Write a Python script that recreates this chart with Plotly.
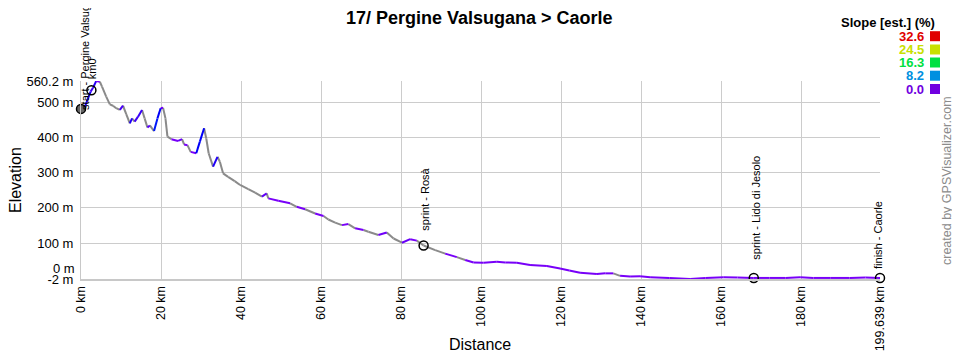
import colorsys
import plotly.graph_objects as go

# ---------------- data ----------------
dist_km = [0, 0.6, 1.6, 2.4, 3.0, 3.8, 4.7, 5.25, 6.3, 7.2, 8.0, 8.8, 9.7, 10.5, 11.3,
           12.2, 12.75, 13.4, 14.25, 15.25, 15.9, 16.6, 17.2, 18.25, 19.1, 19.9, 20.5,
           21.1, 21.6, 22.6, 24.25, 25.25, 25.75, 26.6, 27.4, 28.8, 29.7, 30.75, 31.3,
           31.9, 33.0, 34.1, 34.7, 35.5, 36.75, 38.4, 39.75, 41.8, 43.5, 45.2, 46.4,
           46.8, 49.3, 52.25, 53.9, 56.0, 58.5, 60.6, 61.8, 63.5, 65.2, 66.8, 68.5,
           70.6, 71.8, 74.3, 76.4, 78.1, 80.2, 82.25, 83.9, 85.6, 88.5, 91.0, 93.9,
           96.0, 98.1, 100.6, 103.9, 106.0, 108.9, 112.2, 116.4, 119.7, 122.0, 124.7,
           128.9, 131.0, 133.0, 134.7, 137.2, 139.7, 142.2, 147.0, 152.2, 156.0, 160.6,
           164.0, 168.1, 172.0, 176.0, 179.7, 183.0, 187.2, 192.0, 196.0, 199.639]
elev_m = [474, 476, 506, 530, 541, 560, 558, 544, 516, 494, 490, 483, 478, 490, 466,
          440, 454, 445, 459, 478, 454, 428, 434, 418, 454, 483, 484,
          454, 402, 395, 390, 395, 380, 378, 359, 355, 388, 426, 397,
          355, 317, 345, 331, 298, 288, 276, 265, 253, 243, 232, 241,
          227, 220, 213, 203, 196, 184, 177, 167, 158, 151, 154, 142,
          137, 132, 123, 130, 113, 101, 111, 107, 93, 80, 70, 60,
          52, 45, 44, 47, 45, 44, 38, 35, 28, 22, 16,
          12, 14, 14, 7, 5, 6, 3, 1, -2, 1, 3,
          2, 1, 1, 1, 3, 1, 1, 1, 2, 1]

wpt_names = ["start - Pergine Valsugana", "km0", "sprint - Rosà",
             "sprint - Lido di Jesolo", "finish - Caorle"]
wpt_km = [0, 2.6, 85.6, 168.1, 199.639]
wpt_elev = [481, 534, 93, 1, 1]

x_tick_vals = [0, 20, 40, 60, 80, 100, 120, 140, 160, 180, 199.639]
x_tick_text = ["0 km", "20 km", "40 km", "60 km", "80 km", "100 km", "120 km",
               "140 km", "160 km", "180 km", "199.639 km"]
y_tick_vals = [-2, 0, 100, 200, 300, 400, 500, 560.2]
y_tick_text = ["-2 m", "", "100 m", "200 m", "300 m", "400 m", "500 m", "560.2 m"]

slope_stops = [0.0, 8.2, 16.3, 24.5, 32.6]
slope_labels = ["0.0", "8.2", "16.3", "24.5", "32.6"]
slope_colors = ["#7000e0", "#0090e0", "#00e040", "#c8e000", "#e00000"]

title_text = "17/ Pergine Valsugana > Caorle"

# ---------------- styling / layout ----------------
# the page body has an 8px margin: size the figure so the page does not overflow
OFF = 8
W, H = 960 - OFF, 360 - 2 * OFF
PL, PR, PT, PB = 81, 880, 81, 279          # plot area in window pixels
L, T = PL - OFF, PT - OFF
R, B = W - (PR - OFF), H - (PB - OFF)
PW, PH = PR - PL, PB - PT
FONT = "Arial, Liberation Sans, sans-serif"
DESC_GRAY = "#8a8a8a"
DESC_THRESHOLD = -0.35  # percent


def px_x(px):
    return (px - PL) / PW


def px_y(py):
    return (PB - py) / PH


def hex2hsv(h):
    r, g, b = (int(h[i:i + 2], 16) / 255.0 for i in (1, 3, 5))
    return colorsys.rgb_to_hsv(r, g, b)


def slope_color(s):
    s = max(slope_stops[0], min(slope_stops[-1], s))
    for i in range(len(slope_stops) - 1):
        a, b = slope_stops[i], slope_stops[i + 1]
        if s <= b:
            t = (s - a) / (b - a)
            h1, s1, v1 = hex2hsv(slope_colors[i])
            h2, s2, v2 = hex2hsv(slope_colors[i + 1])
            hh = h1 + (h2 - h1) * t
            ss = s1 + (s2 - s1) * t
            vv = v1 + (v2 - v1) * t
            r, g, bb = colorsys.hsv_to_rgb(hh, ss, min(1.0, vv * 1.1))
            c = [int(round(v * 255 / 8.0) * 8) for v in (r, g, bb)]
            c = [min(255, v) for v in c]
            return "rgb(%d,%d,%d)" % tuple(c)
    return slope_colors[-1]


# group segments by colour
groups = {}
for i in range(len(dist_km) - 1):
    dd = (dist_km[i + 1] - dist_km[i]) * 1000.0
    dh = elev_m[i + 1] - elev_m[i]
    s = dh / dd * 100.0
    col = DESC_GRAY if s < DESC_THRESHOLD else slope_color(max(s, 0))
    g = groups.setdefault(col, ([], []))
    g[0].extend([dist_km[i], dist_km[i + 1], None])
    g[1].extend([elev_m[i], elev_m[i + 1], None])

fig = go.Figure()
order = sorted(groups.keys(), key=lambda c: 0 if c == DESC_GRAY else 1)
for col in order:
    xs, ys = groups[col]
    fig.add_trace(go.Scatter(x=xs, y=ys, mode="lines",
                             line=dict(color=col, width=2),
                             hoverinfo="skip", showlegend=False))

# waypoints
marker_fill = ["#666666", "rgba(0,0,0,0)", "rgba(0,0,0,0)", "rgba(0,0,0,0)", "rgba(0,0,0,0)"]
fig.add_trace(go.Scatter(x=wpt_km, y=wpt_elev, mode="markers",
                         marker=dict(size=9, color=marker_fill,
                                     line=dict(color="#000000", width=1.5)),
                         hoverinfo="skip", showlegend=False, cliponaxis=False))

annotations = []
label_dx = [4, 0, 1, 2, -2]
label_dy = [-2, 10, 14, 17, 8]
for name, xk, ye, dx, dy in zip(wpt_names, wpt_km, wpt_elev, label_dx, label_dy):
    annotations.append(dict(x=xk, y=ye, xref="x", yref="y", text=name,
                            textangle=-90, showarrow=False, xanchor="center",
                            yanchor="bottom", xshift=dx, yshift=dy, borderpad=0,
                            font=dict(family=FONT, size=11, color="#000000")))

# "0 m" label shifted up (as in the reference)
annotations.append(dict(x=0, y=0, xref="paper", yref="y", text="0 m", showarrow=False,
                        xanchor="right", yanchor="middle", xshift=-4, yshift=10,
                        font=dict(family=FONT, size=13, color="#000000")))

# axis titles
annotations.append(dict(x=px_x(15), y=px_y(180), xref="paper", yref="paper",
                        text="Elevation", textangle=-90, showarrow=False,
                        xanchor="center", yanchor="middle",
                        font=dict(family=FONT, size=16, color="#000000")))
annotations.append(dict(x=px_x(480), y=px_y(344.5), xref="paper", yref="paper",
                        text="Distance", showarrow=False, borderpad=0,
                        xanchor="center", yanchor="middle",
                        font=dict(family=FONT, size=16, color="#000000")))

# credit
annotations.append(dict(x=px_x(947), y=px_y(181), xref="paper", yref="paper",
                        text="created by GPSVisualizer.com", textangle=-90,
                        showarrow=False, xanchor="center", yanchor="middle",
                        font=dict(family=FONT, size=12.5, color="#8c8c8c")))

# title
annotations.append(dict(x=px_x(479), y=px_y(18), xref="paper", yref="paper",
                        text="<b>%s</b>" % title_text, showarrow=False, borderpad=0,
                        xanchor="center", yanchor="middle",
                        font=dict(family=FONT, size=18, color="#000000")))

# slope legend
annotations.append(dict(x=px_x(937), y=px_y(23), xref="paper", yref="paper",
                        text="<b>Slope [est.] (%)</b>", showarrow=False,
                        xanchor="right", yanchor="middle",
                        font=dict(family=FONT, size=13, color="#000000")))
shapes = []
row_y = [89, 75.7, 62.5, 49.5, 36.2]
for lab, col, ry in zip(slope_labels, slope_colors, row_y):
    annotations.append(dict(x=px_x(926), y=px_y(ry), xref="paper", yref="paper",
                            text="<b>%s</b>" % lab, showarrow=False,
                            xanchor="right", yanchor="middle",
                            font=dict(family=FONT, size=13, color=col)))
    shapes.append(dict(type="rect", xref="paper", yref="paper",
                       x0=px_x(930), x1=px_x(940), y0=px_y(ry + 5), y1=px_y(ry - 5),
                       fillcolor=col, line=dict(width=0)))

fig.update_layout(
    width=W, height=H,
    margin=dict(l=L, r=R, t=T, b=B, pad=0, autoexpand=False),
    paper_bgcolor="#ffffff", plot_bgcolor="#ffffff",
    annotations=annotations, shapes=shapes,
    showlegend=False,
    xaxis=dict(range=[0, 199.639], tickmode="array", tickvals=x_tick_vals,
               ticktext=x_tick_text, tickangle=-90, showgrid=True,
               gridcolor="#cccccc", gridwidth=1, zeroline=False,
               showline=True, linecolor="#c8c8c8", linewidth=2,
               ticks="", ticklabelstandoff=0, automargin=False,
               tickfont=dict(family=FONT, size=12.5, color="#000000")),
    yaxis=dict(range=[-2, 560.2], tickmode="array", tickvals=y_tick_vals,
               ticktext=y_tick_text, showgrid=True, gridcolor="#cccccc",
               gridwidth=1, zeroline=False, showline=True, linecolor="#c8c8c8",
               linewidth=1, ticks="", ticklabelstandoff=4, automargin=False,
               tickfont=dict(family=FONT, size=13, color="#000000")),
)

fig.write_html("out.html")
